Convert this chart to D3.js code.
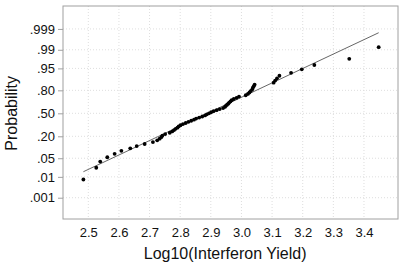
<!DOCTYPE html>
<html>
<head>
<meta charset="utf-8">
<script src="https://cdn.jsdelivr.net/npm/d3@7"></script>
<style>
  body { margin: 0; background: #fff; }
  text { font-family: "Liberation Sans", Arial, sans-serif; fill: #111; }
  .grid line { stroke: #dedede; stroke-dasharray: 1,2; }
</style>
</head>
<body>
<div id="chart"></div>
<script>
// values
const yieldLog = [2.484, 2.526, 2.539, 2.562, 2.586, 2.608, 2.637, 2.658, 2.684, 2.711,
    2.725, 2.733, 2.739, 2.742, 2.751, 2.766, 2.774, 2.780, 2.785, 2.791,
    2.795, 2.801, 2.809, 2.818, 2.827, 2.836, 2.845, 2.852, 2.862, 2.872,
    2.881, 2.887, 2.894, 2.901, 2.909, 2.919, 2.929, 2.940, 2.946, 2.949,
    2.953, 2.957, 2.960, 2.964, 2.968, 2.975, 2.984, 2.992, 3.014, 3.021,
    3.026, 3.030, 3.035, 3.037, 3.040, 3.043, 3.105, 3.110, 3.116, 3.124,
    3.162, 3.197, 3.238, 3.352, 3.448];
const probability = [.0077, .0231, .0385, .0538, .0692, .0846, .1000, .1154, .1308, .1462,
    .1615, .1769, .1923, .2077, .2231, .2385, .2538, .2692, .2846, .3000,
    .3154, .3308, .3462, .3615, .3769, .3923, .4077, .4231, .4385, .4538,
    .4692, .4846, .5000, .5154, .5308, .5462, .5615, .5769, .5923, .6077,
    .6231, .6385, .6538, .6692, .6846, .7000, .7154, .7308, .7462, .7615,
    .7769, .7923, .8077, .8231, .8385, .8538, .8692, .8846, .9000, .9154,
    .9308, .9462, .9615, .9769, .9923];
const probTicks = [.001, .01, .05, .20, .50, .80, .95, .99, .999];
const probTickLabels = [".001", ".01", ".05", ".20", ".50", ".80", ".95", ".99", ".999"];
const xTicks = [2.5, 2.6, 2.7, 2.8, 2.9, 3.0, 3.1, 3.2, 3.3, 3.4];
const fitMean = 2.889;
const fitSd = 0.1894;

// inverse normal cdf (Abramowitz & Stegun 26.2.23)
function probit(p) {
    let q = p < 0.5 ? p : 1 - p;
    let t = Math.sqrt(-2 * Math.log(q));
    let z = t - (2.515517 + 0.802853 * t + 0.010328 * t * t) /
        (1 + 1.432788 * t + 0.189269 * t * t + 0.001308 * t * t * t);
    return p < 0.5 ? -z : z;
}

let margin = { top: 6, right: 5, bottom: 43, left: 63 };
let width = 403 - margin.left - margin.right;
let height = 262 - margin.top - margin.bottom;

let svg = d3.select("#chart").append("svg")
    .attr("width", 403)
    .attr("height", 262)
    .append("g")
    .attr("transform", "translate(" + margin.left + "," + margin.top + ")");

let x = d3.scaleLinear()
    .domain([2.4174, 3.5111])
    .range([0, width]);

let y = d3.scaleLinear()
    .domain([-3.87, 3.93])
    .range([height, 0]);

// grid
let grid = svg.append("g").attr("class", "grid");
grid.selectAll(".vg").data(xTicks).enter().append("line")
    .attr("x1", d => x(d)).attr("x2", d => x(d))
    .attr("y1", 0).attr("y2", height);
grid.selectAll(".hg").data(probTicks).enter().append("line")
    .attr("x1", 0).attr("x2", width)
    .attr("y1", d => y(probit(d))).attr("y2", d => y(probit(d)));

// frame
svg.append("rect")
    .attr("width", width)
    .attr("height", height)
    .attr("fill", "none")
    .attr("stroke", "#a0a0a0")
    .attr("stroke-width", 1);

// axes
let xAxis = d3.axisBottom(x)
    .tickValues(xTicks)
    .tickSize(0)
    .tickPadding(9)
    .tickFormat(d3.format(".1f"));

let yAxis = d3.axisLeft(y)
    .tickValues(probTicks.map(probit))
    .tickSize(5)
    .tickPadding(3)
    .tickFormat((d, i) => probTickLabels[i]);

let gx = svg.append("g")
    .attr("transform", "translate(0," + height + ")")
    .call(xAxis);
let gy = svg.append("g").call(yAxis);

[gx, gy].forEach(g => {
    g.select(".domain").remove();
    g.selectAll("line").attr("stroke", "#a0a0a0");
    g.selectAll("text").style("font-size", "13px").attr("fill", "#111");
});

// fitted line
let xr = d3.extent(yieldLog);
svg.append("line")
    .attr("x1", x(xr[0])).attr("y1", y((xr[0] - fitMean) / fitSd))
    .attr("x2", x(xr[1])).attr("y2", y((xr[1] - fitMean) / fitSd))
    .attr("stroke", "#555")
    .attr("stroke-width", 0.9);

// points
svg.selectAll(".pt").data(yieldLog).enter().append("circle")
    .attr("class", "pt")
    .attr("cx", d => x(d))
    .attr("cy", (d, i) => y(probit(probability[i])))
    .attr("r", 1.9)
    .attr("fill", "#000");

// titles
svg.append("text")
    .attr("x", x(2.95) - 1)
    .attr("y", height + 40)
    .attr("text-anchor", "middle")
    .style("font-size", "16px")
    .text("Log10(Interferon Yield)");

svg.append("text")
    .attr("transform", "translate(" + (-margin.left + 17) + "," + y(0) + ") rotate(-90)")
    .attr("text-anchor", "middle")
    .style("font-size", "16px")
    .text("Probability");
</script>
</body>
</html>
